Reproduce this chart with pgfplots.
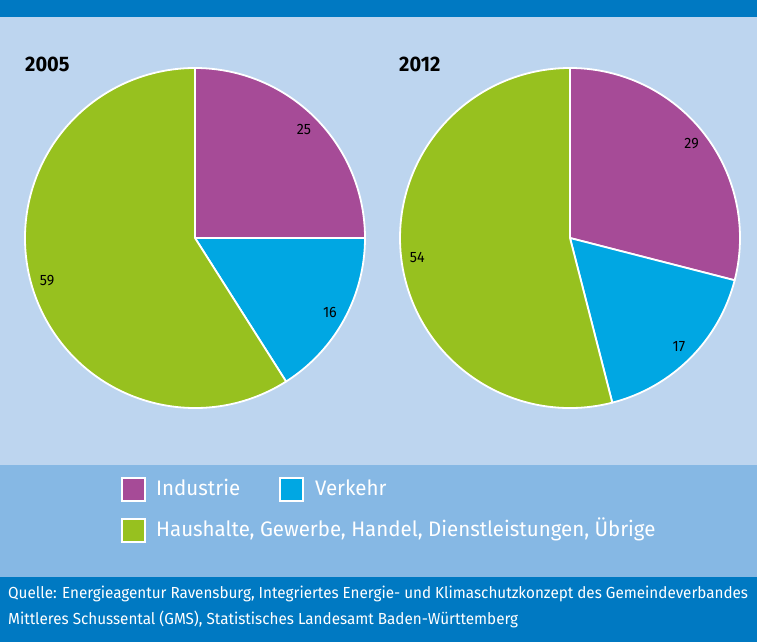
\documentclass[border=0pt]{standalone}
\usepackage{pgfplots}
\pgfplotsset{compat=1.18}
\usepackage{pgfplotstable}
\usepackage{fontspec}
\setmainfont{Fira Sans}
\newfontfamily\legfont{Fira Sans}[FakeStretch=0.975]
\newfontfamily\srcfont{Fira Sans}[FakeStretch=0.952]
\newfontfamily\titfont{Fira Sans}[FakeStretch=0.95]
\newfontfamily\lblfont{Fira Sans}[FakeStretch=0.95]
\definecolor{hdr}{HTML}{0079C2}
\definecolor{panel}{HTML}{BDD5EF}
\definecolor{legband}{HTML}{86B8E4}
\definecolor{cInd}{HTML}{A64B97}
\definecolor{cVer}{HTML}{00A7E3}
\definecolor{cHH}{HTML}{97C11F}

\pgfplotstableread{
year ind ver hh
2005 25 16 59
2012 29 17 54
}\piedata

\newcommand\setpie[1]{%
  \pgfplotstablegetelem{#1}{ind}\of\piedata \edef\va{\pgfplotsretval}%
  \pgfplotstablegetelem{#1}{ver}\of\piedata \edef\vb{\pgfplotsretval}%
  \pgfplotstablegetelem{#1}{hh}\of\piedata \edef\vc{\pgfplotsretval}%
  \pgfmathsetmacro\aA{90}%
  \pgfmathsetmacro\aB{90-3.6*\va}%
  \pgfmathsetmacro\aC{90-3.6*(\va+\vb)}%
  \pgfmathsetmacro\aD{90-3.6*(\va+\vb+\vc)}%
  \pgfmathsetmacro\mA{(\aA+\aB)/2}%
  \pgfmathsetmacro\mB{(\aB+\aC)/2}%
  \pgfmathsetmacro\mC{(\aC+\aD)/2}%
}
\newcommand\slice[3]{%
  \fill[#3, draw=white, line width=1.8pt, line join=round]
    (axis cs:0,0) -- (axis cs:{170*cos(#1)},{170*sin(#1)})
    arc[start angle=#1, end angle=#2, radius=170pt] -- cycle;}
\newcommand\plabel[2]{%
  \node[font=\lblfont\fontsize{15}{17}\selectfont, text=black, inner sep=0pt]
    at (axis cs:{154*cos(#1)},{154*sin(#1)}) {#2};}

\pgfplotsset{pieaxis/.style={
  hide axis, scale only axis, clip=false,
  x=1pt, y=1pt, xmin=-170, xmax=170, ymin=-170, ymax=170,
  anchor=center}}

\begin{document}
\begin{tikzpicture}[x=1pt,y=1pt]
\useasboundingbox (0,0) rectangle (757,642);
% backgrounds
\fill[hdr] (0,625) rectangle (757,642);
\fill[panel] (0,177) rectangle (757,625);
\fill[legband] (0,65) rectangle (757,177);
\fill[hdr] (0,0) rectangle (757,65);

% titles
\node[anchor=base west, inner sep=0pt, font=\titfont\bfseries\fontsize{21}{24}\selectfont] at (25,570) {2005};
\node[anchor=base west, inner sep=0pt, font=\titfont\bfseries\fontsize{21}{24}\selectfont] at (399,570) {2012};

% pie 2005
\setpie{0}
\begin{axis}[pieaxis, at={(195pt,404pt)}]
  \slice{\aA}{\aB}{cInd}
  \slice{\aB}{\aC}{cVer}
  \slice{\aC}{\aD}{cHH}
  \plabel{\mA}{\va}
  \plabel{\mB}{\vb}
  \plabel{\mC}{\vc}
\end{axis}

% pie 2012
\setpie{1}
\begin{axis}[pieaxis, at={(570pt,404pt)}]
  \slice{\aA}{\aB}{cInd}
  \slice{\aB}{\aC}{cVer}
  \slice{\aC}{\aD}{cHH}
  \plabel{\mA}{\va}
  \plabel{\mB}{\vb}
  \plabel{\mC}{\vc}
\end{axis}

% legend
\fill[white] (121,140) rectangle (146,165);
\fill[cInd] (123,142) rectangle (144,163);
\fill[white] (279,140) rectangle (304,165);
\fill[cVer] (281,142) rectangle (302,163);
\fill[white] (121,99) rectangle (146,124);
\fill[cHH] (123,101) rectangle (144,122);
\node[anchor=base west, inner sep=0pt, text=white, font=\legfont\fontsize{21}{24}\selectfont] at (156,146) {Industrie};
\node[anchor=base west, inner sep=0pt, text=white, font=\legfont\fontsize{21}{24}\selectfont] at (315,146) {Verkehr};
\node[anchor=base west, inner sep=0pt, text=white, font=\legfont\fontsize{21}{24}\selectfont] at (156,105) {Haushalte, Gewerbe, Handel, Dienstleistungen, Übrige};

% source
\node[anchor=base west, inner sep=0pt, text=white, font=\srcfont\fontsize{16}{18}\selectfont] at (8,43) {Quelle: Energieagentur Ravensburg, Integriertes Energie- und Klimaschutzkonzept des Gemeindeverbandes};
\node[anchor=base west, inner sep=0pt, text=white, font=\srcfont\fontsize{16}{18}\selectfont] at (8,17) {Mittleres Schussental (GMS), Statistisches Landesamt Baden-Württemberg};
\end{tikzpicture}
\end{document}
